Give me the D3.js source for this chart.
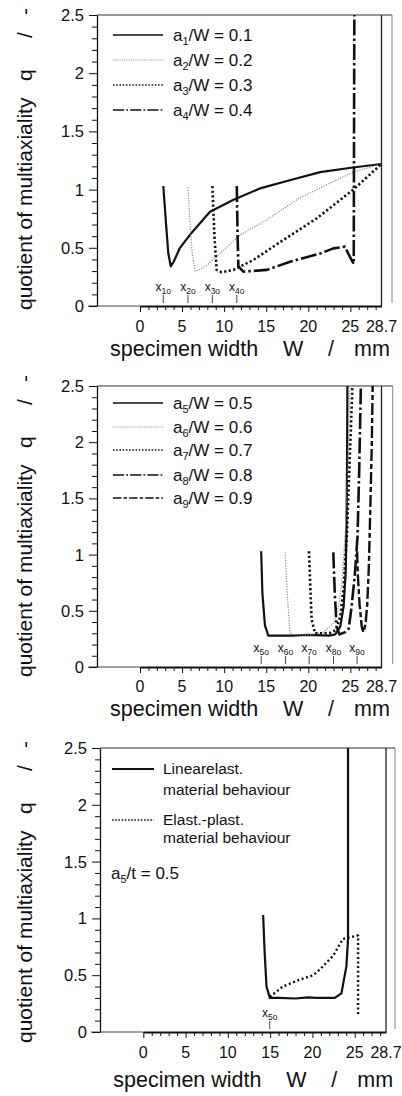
<!DOCTYPE html>
<html><head><meta charset="utf-8">
<script src="https://cdn.jsdelivr.net/npm/d3@7"></script>
<style>
html,body{margin:0;padding:0;background:#fff;}
svg{display:block;font-family:"Liberation Sans",Arial,sans-serif;}
</style></head>
<body>
<svg id="c" width="402" height="1096"></svg>
<script>
// ---------- data ----------
const xTickValues = [0, 5, 10, 15, 20, 25, 28.7];
const xTickLabels = ["0", "5", "10", "15", "20", "25", "28.7"];
const yTickValues = [0, 0.5, 1, 1.5, 2, 2.5];
const yTickLabels = ["0", "0.5", "1", "1.5", "2", "2.5"];

// panel 1 : a/W = 0.1 ... 0.4
const a1W = [2.77, 3.1, 3.36, 3.65, 4.0, 4.75, 6.14, 8.32, 11.05, 14.26, 17.8, 21.4, 25.3, 28.7];
const a1Q = [1.03, 0.7, 0.455, 0.34, 0.38, 0.5, 0.63, 0.81, 0.91, 1.01, 1.08, 1.15, 1.19, 1.22];
const a2W = [5.7, 5.95, 6.2, 6.54, 7.0, 7.93, 9.5, 11.9, 15.05, 19.0, 23.0, 25.35, 28.7];
const a2Q = [1.02, 0.7, 0.45, 0.3, 0.31, 0.35, 0.45, 0.61, 0.74, 0.93, 1.07, 1.15, 1.22];
const a3W = [8.6, 8.85, 9.11, 9.7, 11.09, 13.47, 17.03, 21.0, 25.35, 28.7];
const a3Q = [1.03, 0.6, 0.31, 0.29, 0.31, 0.395, 0.567, 0.753, 1.0, 1.22];
const a4W = [11.5, 11.6, 11.69, 12.28, 15.05, 17.83, 21.39, 22.97, 24.36, 24.75, 25.4, 25.47];
const a4Q = [1.03, 0.6, 0.34, 0.295, 0.31, 0.38, 0.45, 0.495, 0.51, 0.45, 0.36, 2.5];
const xo1 = [2.77, 5.7, 8.6, 11.5];
const xo1Labels = ["1o", "2o", "3o", "4o"];
const legend1 = [["1", "0.1"], ["2", "0.2"], ["3", "0.3"], ["4", "0.4"]];

// panel 2 : a/W = 0.5 ... 0.9
const a5W = [14.4, 14.55, 14.85, 15.25, 18, 20, 22.6, 23.2, 23.8, 24.2, 24.45, 24.55, 24.6, 24.65];
const a5Q = [1.03, 0.65, 0.37, 0.28, 0.28, 0.285, 0.28, 0.29, 0.36, 0.54, 0.85, 1.3, 1.75, 2.5];
const a6W = [17.25, 17.5, 17.8, 17.95, 20, 21.8, 23.0, 23.6, 24.0, 24.4, 24.7, 24.95];
const a6Q = [1.02, 0.65, 0.33, 0.29, 0.285, 0.31, 0.39, 0.54, 0.75, 1.2, 1.8, 2.5];
const a7W = [20.08, 20.25, 20.4, 20.8, 22.5, 23.3, 23.8, 24.2, 24.6, 24.95, 25.25];
const a7Q = [1.03, 0.7, 0.42, 0.30, 0.30, 0.33, 0.45, 0.7, 1.2, 1.9, 2.5];
const a8W = [22.97, 23.15, 23.37, 23.7, 24.4, 24.8, 25.15, 25.55, 25.85, 26.05, 26.25];
const a8Q = [1.02, 0.65, 0.36, 0.29, 0.31, 0.34, 0.54, 0.84, 1.16, 1.75, 2.5];
const a9W = [25.8, 25.9, 26.1, 26.35, 26.55, 26.8, 27.0, 27.2, 27.4, 27.55, 27.65];
const a9Q = [1.03, 0.8, 0.55, 0.36, 0.31, 0.38, 0.55, 0.9, 1.5, 2.0, 2.5];
const xo2 = [14.4, 17.3, 20.1, 23.0, 25.8];
const xo2Labels = ["5o", "6o", "7o", "8o", "9o"];
const legend2 = [["5", "0.5"], ["6", "0.6"], ["7", "0.7"], ["8", "0.8"], ["9", "0.9"]];

// panel 3 : a5/t = 0.5, linear-elastic vs elastic-plastic
const linW = [14.17, 14.35, 14.57, 14.96, 16, 18, 19.5, 20.5, 22.64, 23.43, 24.02, 24.21, 24.21];
const linQ = [1.03, 0.7, 0.40, 0.30, 0.30, 0.295, 0.305, 0.30, 0.30, 0.34, 0.58, 0.82, 2.5];
const plastW = [14.96, 16.5, 18.5, 20.1, 20.87, 22.44, 23.62, 24.8, 25.4, 25.4];
const plastQ = [0.31, 0.40, 0.46, 0.50, 0.55, 0.67, 0.82, 0.84, 0.85, 0.15];
const xo3 = [14.95];
const xo3Labels = ["5o"];
const legend3 = [["Linearelast.", "material behaviour"], ["Elast.-plast.", "material behaviour"]];

// ---------- styles ----------
const ST = {
  solid:   {w: 2.2, dash: null, c: "#111"},
  light:   {w: 1.2, dash: "1.2,1.4", c: "#8a8a8a"},
  dot:     {w: 2.6, dash: "2.2,2.4", c: "#111"},
  dashdot: {w: 2.6, dash: "16,3,2.5,3", c: "#111"},
  dashdash:{w: 2.4, dash: "12,3,5,3", c: "#111"}
};

const svg = d3.select("#c");
const ink = "#111";

function panel(cfg) {
  const g = svg.append("g");
  const x = d3.scaleLinear().domain([0, 28.7]).range([cfg.x0, cfg.x1]);
  const y = d3.scaleLinear().domain([0, 2.5]).range([cfg.yBot, cfg.yTop]);
  const yb = cfg.yBot;

  // frame: top, inner right, outer right
  g.append("line").attr("x1", cfg.left).attr("x2", cfg.outer).attr("y1", cfg.yTop).attr("y2", cfg.yTop)
    .attr("stroke", "#333").attr("stroke-width", 1.1);
  g.append("line").attr("x1", cfg.x1).attr("x2", cfg.x1).attr("y1", cfg.yTop).attr("y2", yb)
    .attr("stroke", "#222").attr("stroke-width", 1.3);
  g.append("line").attr("x1", cfg.outer).attr("x2", cfg.outer).attr("y1", cfg.yTop).attr("y2", yb - 3)
    .attr("stroke", "#777").attr("stroke-width", 0.9);
  // zero line from y axis to W = 0
  g.append("line").attr("x1", cfg.left - 9).attr("x2", cfg.x0).attr("y1", yb).attr("y2", yb)
    .attr("stroke", "#444").attr("stroke-width", 1);

  // y axis
  const yAxis = d3.axisLeft(y).tickValues(d3.range(0, 26).map(i => i / 10))
    .tickFormat("").tickSize(5).tickSizeOuter(0);
  const ya = g.append("g").attr("transform", `translate(${cfg.left},0)`).call(yAxis);
  ya.select(".domain").attr("stroke", ink).attr("stroke-width", 1.3);
  ya.selectAll(".tick line").attr("stroke", ink).attr("stroke-width", 1)
    .attr("x2", d => (Math.abs(d * 2 - Math.round(d * 2)) < 1e-6) ? -8 : -5);
  g.selectAll(".ylab").data(yTickValues).enter().append("text")
    .attr("x", cfg.left - 13).attr("y", d => y(d)).attr("dy", "0.36em")
    .attr("text-anchor", "end").attr("font-size", 16.5).attr("fill", ink)
    .text((d, i) => yTickLabels[i]);

  // x axis
  const xAxis = d3.axisBottom(x).tickValues(d3.range(0, 29)).tickFormat("")
    .tickSize(4).tickSizeOuter(0);
  const xa = g.append("g").attr("transform", `translate(0,${yb})`).call(xAxis);
  xa.select(".domain").attr("stroke", ink).attr("stroke-width", 1.8);
  xa.selectAll(".tick line").attr("stroke", ink).attr("stroke-width", 1)
    .attr("y2", d => d % 5 === 0 ? 6 : 4);
  g.selectAll(".xlab").data(xTickValues).enter().append("text")
    .attr("x", d => x(d)).attr("y", cfg.tickBase)
    .attr("text-anchor", "middle").attr("font-size", 16).attr("fill", ink)
    .text((d, i) => xTickLabels[i]);

  // axis titles
  const xt = g.append("text").attr("y", cfg.xTitleBase).attr("font-size", 21.5).attr("fill", ink);
  xt.append("tspan").attr("x", cfg.x0 - 30).text("specimen width");
  xt.append("tspan").attr("x", cfg.x0 + 143).text("W");
  xt.append("tspan").attr("x", cfg.x0 + 188).text("/");
  xt.append("tspan").attr("x", cfg.x0 + 214).text("mm");

  const yt = g.append("text").attr("transform", `translate(32,${cfg.yTitleBottom}) rotate(-90)`)
    .attr("font-size", 21).attr("fill", ink);
  yt.append("tspan").attr("x", 0).text("quotient of multiaxiality");
  yt.append("tspan").attr("x", 229).text("q");
  yt.append("tspan").attr("x", 272).text("/");
  yt.append("tspan").attr("x", 295).text("-");

  // x_o markers
  cfg.xo.forEach((v, i) => {
    g.append("line").attr("x1", x(v)).attr("x2", x(v)).attr("y1", yb - 11).attr("y2", yb - 3)
      .attr("stroke", "#333").attr("stroke-width", 0.9);
    const t = g.append("text").attr("x", x(v)).attr("y", yb - 15).attr("text-anchor", "middle")
      .attr("font-size", 12).attr("fill", ink);
    t.append("tspan").text("x");
    t.append("tspan").attr("font-size", 8.5).attr("dy", 3).text(cfg.xoLabels[i]);
  });

  // clip
  const id = "clip" + cfg.id;
  svg.append("clipPath").attr("id", id).append("rect")
    .attr("x", cfg.left).attr("y", cfg.yTop).attr("width", cfg.outer - cfg.left).attr("height", yb - cfg.yTop);
  const plot = g.append("g").attr("clip-path", `url(#${id})`);
  const line = d3.line().x(d => x(d[0])).y(d => y(d[1]));
  cfg.series.forEach(s => {
    const st = ST[s.style];
    const pts = s.w.map((v, i) => [v, s.q[i]]);
    plot.append("path").attr("d", line(pts)).attr("fill", "none")
      .attr("stroke", st.c).attr("stroke-width", s.width || st.w)
      .attr("stroke-dasharray", s.dash || st.dash).attr("stroke-linejoin", "round");
  });
  return {g, x, y};
}

function subLegend(g, rows, styles, x0, ys) {
  rows.forEach((r, i) => {
    const st = ST[styles[i]];
    g.append("line").attr("x1", x0).attr("x2", x0 + 50).attr("y1", ys[i]).attr("y2", ys[i])
      .attr("stroke", st.c).attr("stroke-width", styles[i] === "light" ? 1 : 1.3)
      .attr("stroke-dasharray", st.dash ? st.dash.split(",").map(v => +v * 0.7).join(",") : null);
    const t = g.append("text").attr("x", x0 + 60).attr("y", ys[i]).attr("dy", "0.35em")
      .attr("font-size", 17).attr("fill", ink);
    t.append("tspan").text("a");
    t.append("tspan").attr("font-size", 11).attr("dy", 4).text(r[0]);
    t.append("tspan").attr("dy", -4).text("/W = " + r[1]);
  });
}

// ---------- panel 1 ----------
const p1 = panel({id: 1, left: 97, x0: 140, x1: 381.5, yTop: 15, yBot: 306, outer: 392,
  tickBase: 332, xTitleBase: 356, yTitleBottom: 310, xo: xo1, xoLabels: xo1Labels,
  series: [
    {w: a1W, q: a1Q, style: "solid"},
    {w: a2W, q: a2Q, style: "light"},
    {w: a3W, q: a3Q, style: "dot"},
    {w: a4W, q: a4Q, style: "dashdot"}
  ]});
subLegend(p1.g, legend1, ["solid", "light", "dot", "dashdot"], 113, [35, 60, 85, 110]);

// ---------- panel 2 ----------
const p2 = panel({id: 2, left: 97, x0: 140, x1: 381.5, yTop: 386, yBot: 667, outer: 392.7,
  tickBase: 692, xTitleBase: 716, yTitleBottom: 677, xo: xo2, xoLabels: xo2Labels,
  series: [
    {w: a5W, q: a5Q, style: "solid"},
    {w: a6W, q: a6Q, style: "light"},
    {w: a7W, q: a7Q, style: "dot"},
    {w: a8W, q: a8Q, style: "dashdot"},
    {w: a9W, q: a9Q, style: "dashdash"}
  ]});
subLegend(p2.g, legend2, ["solid", "light", "dot", "dashdot", "dashdash"], 113, [403, 427, 450, 475, 498]);

// ---------- panel 3 ----------
const p3 = panel({id: 3, left: 100, x0: 143.3, x1: 386, yTop: 748, yBot: 1032, outer: 395,
  tickBase: 1058, xTitleBase: 1087, yTitleBottom: 1043, xo: xo3, xoLabels: xo3Labels,
  series: [
    {w: linW, q: linQ, style: "solid"},
    {w: plastW, q: plastQ, style: "dot", width: 2.4, dash: "2,2.6"}
  ]});
[[769, 790], [820, 838]].forEach((yy, i) => {
  p3.g.append("line").attr("x1", 112).attr("x2", 154).attr("y1", yy[0]).attr("y2", yy[0])
    .attr("stroke", ink).attr("stroke-width", i === 0 ? 2.2 : 1.3)
    .attr("stroke-dasharray", i === 0 ? null : "1.6,1.6");
  p3.g.append("text").attr("x", 163).attr("y", yy[0]).attr("dy", "0.35em")
    .attr("font-size", 15.5).attr("fill", ink).text(legend3[i][0]);
  p3.g.append("text").attr("x", 163).attr("y", yy[1]).attr("dy", "0.35em")
    .attr("font-size", 15.5).attr("fill", ink).text(legend3[i][1]);
});
const at = p3.g.append("text").attr("x", 111).attr("y", 873).attr("dy", "0.35em")
  .attr("font-size", 17).attr("fill", ink);
at.append("tspan").text("a");
at.append("tspan").attr("font-size", 11).attr("dy", 4).text("5");
at.append("tspan").attr("dy", -4).text("/t = 0.5");
</script>
</body></html>
